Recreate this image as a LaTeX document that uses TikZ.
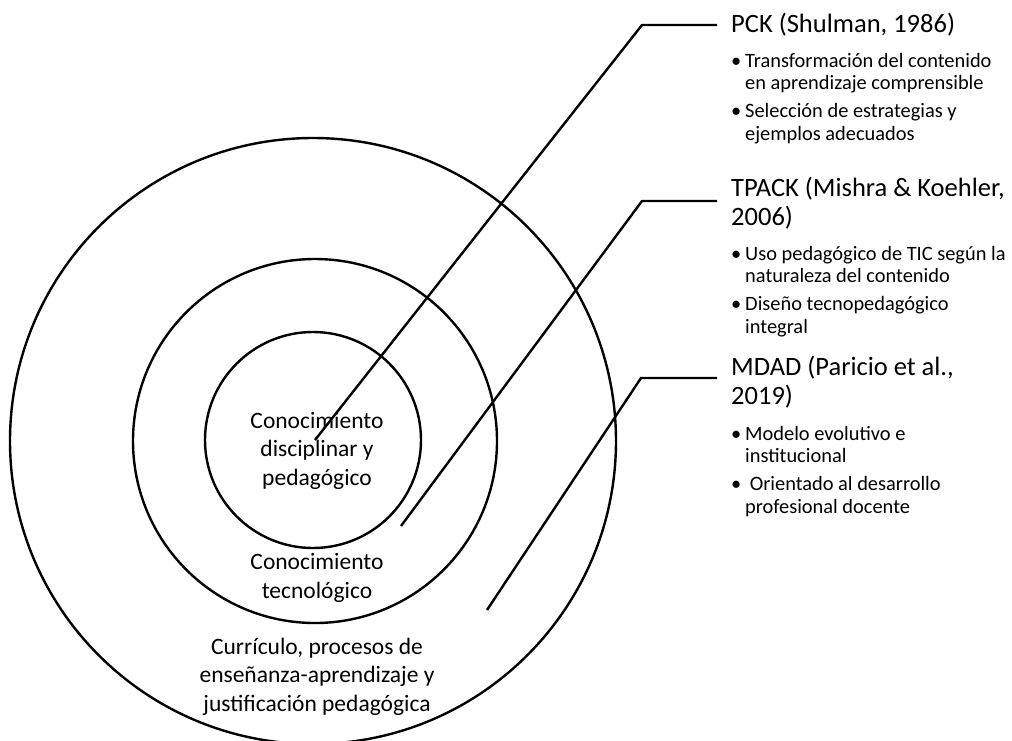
\documentclass[tikz,border=0pt]{standalone}
\usepackage{fontspec}
\setmainfont{Carlito}

\begin{document}
\begin{tikzpicture}[x=1pt,y=-1pt,
		ring/.style={line width=2.4pt},
		leader/.style={line width=2.4pt},
		layer/.style={align=center,inner sep=0pt,anchor=base,font=\fontsize{23.5}{28.5}\selectfont},
		title/.style={align=left,inner sep=0pt,anchor=base west,font=\fontsize{26.5}{28.5}\selectfont},
		points/.style={align=left,inner sep=0pt,anchor=base west,font=\fontsize{20.4}{22.3}\selectfont}]
			\useasboundingbox (0,0) rectangle (1012,740);
			% the three layers
			\draw[ring] (313,441) circle (303pt);
			\draw[ring] (315,441) circle (182pt);
			\draw[ring] (313,440) circle (108pt);
			\node[layer] (inner) at (317,485) {Conocimiento\\disciplinar y\\pedagógico};
			\node[layer] (middle) at (317,598) {Conocimiento\\tecnológico};
			\node[layer] (outer) at (317,711) {Currículo, procesos de\\enseñanza-aprendizaje y\\justificación pedagógica};
			% models
			\node[title] (pck) at (731,32) {PCK (Shulman, 1986)};
			\node[points] (pckpts) at (745,140) {\llap{•\hspace{4pt}}Transformación del contenido\\en aprendizaje comprensible\\[5.5pt]\llap{•\hspace{4pt}}Selección de estrategias y\\ejemplos adecuados};
			\node[title] (tpack) at (731,225) {TPACK (Mishra \& Koehler,\\2006)};
			\node[points] (tpackpts) at (745,333) {\llap{•\hspace{4pt}}Uso pedagógico de TIC según la\\naturaleza del contenido\\[5.5pt]\llap{•\hspace{4pt}}Diseño tecnopedagógico\\integral};
			\node[title] (mdad) at (731,404) {MDAD (Paricio et al.,\\2019)};
			\node[points] (mdadpts) at (745,513) {\llap{•\hspace{4pt}}Modelo evolutivo e\\institucional\\[5.5pt]\llap{•\hspace{4pt}}\ Orientado al desarrollo\\profesional docente};
			% leaders
			\coordinate (pckin) at (315,440);
			\coordinate (pckknee) at (642,25);
			\coordinate (pckend) at (717,25);
			\coordinate (tpackin) at (401,526);
			\coordinate (tpackknee) at (642,201);
			\coordinate (tpackend) at (717,201);
			\coordinate (mdadin) at (487,610);
			\coordinate (mdadknee) at (641,378);
			\coordinate (mdadend) at (717,378);
			\draw[leader] (pckin) -- (pckknee) -- (pckend);
			\draw[leader] (tpackin) -- (tpackknee) -- (tpackend);
			\draw[leader] (mdadin) -- (mdadknee) -- (mdadend);
		\end{tikzpicture}
\end{document}
